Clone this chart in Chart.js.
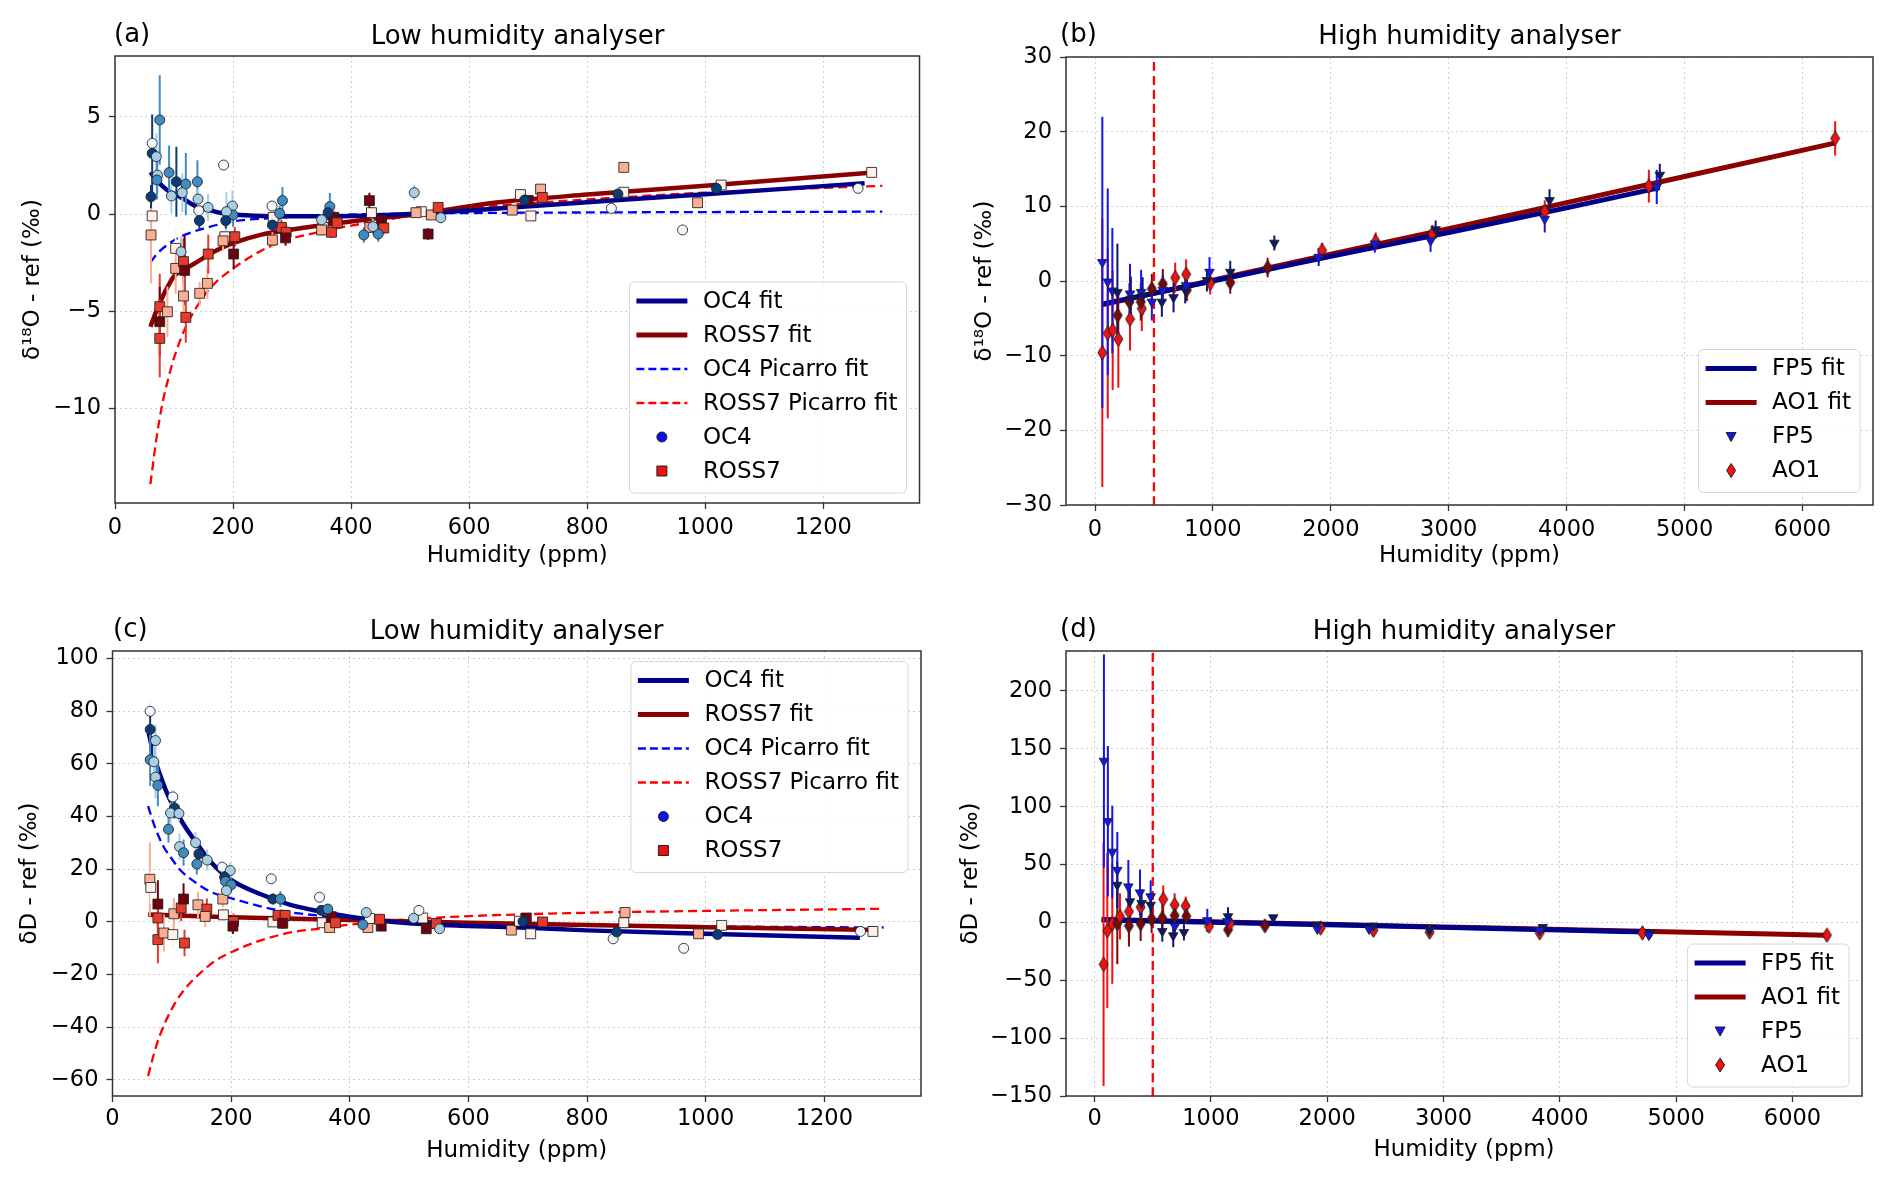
<!DOCTYPE html>
<html lang="en">
<head>
<meta charset="UTF-8">
<title>Humidity dependence of analysers</title>
<script src="https://cdn.jsdelivr.net/npm/chart.js"></script>
<style>
  body { margin: 0; background: #fff; font-family: "DejaVu Sans", sans-serif; }
  #wrap { position: relative; width: 1892px; height: 1181px; overflow: hidden; }
  canvas { position: absolute; }
  .lbl { position: absolute; font-size: 26px; line-height: 30px; white-space: nowrap; color: #000; }
  .ttl { text-align: center; }
</style>
</head>
<body>
<div id="wrap">
  <canvas id="pa" width="946" height="590" style="left:0;top:0"></canvas>
  <canvas id="pb" width="946" height="590" style="left:946px;top:0"></canvas>
  <canvas id="pc" width="946" height="590" style="left:0;top:590px"></canvas>
  <canvas id="pd" width="946" height="590" style="left:946px;top:590px"></canvas>
  <div class="lbl" style="left:114px;top:18px">(a)</div>
  <div class="lbl ttl" style="left:115px;width:805px;top:20px">Low humidity analyser</div>
  <div class="lbl" style="left:1060px;top:18px">(b)</div>
  <div class="lbl ttl" style="left:1066px;width:807px;top:20px">High humidity analyser</div>
  <div class="lbl" style="left:113px;top:613px">(c)</div>
  <div class="lbl ttl" style="left:112px;width:809px;top:615px">Low humidity analyser</div>
  <div class="lbl" style="left:1060px;top:613px">(d)</div>
  <div class="lbl ttl" style="left:1066px;width:796px;top:615px">High humidity analyser</div>
</div>
<script>
// ---------- panel (a): delta18O, low humidity analyser ----------
const aOc4X   = [63, 63, 70, 61, 72, 71, 75.8, 91.6, 104, 120, 114, 95.5, 139.6, 140.7, 157.7, 142, 143, 112, 184, 199, 200, 188.7, 187.6, 266, 283.7, 279, 266.7, 364, 361, 350, 421.5, 446, 437, 507, 552, 694, 841, 852, 961.6, 1019, 1259];
const aOc4Y   = [3.64, 3.12, 2.95, 0.89, 2.0, 1.75, 4.84, 2.13, 1.66, 1.54, 1.1, 0.93, 1.66, 0.77, 0.34, 0.17, -0.34, -1.94, 2.52, 0.41, -0.05, 0.12, -0.34, 0.41, 0.69, 0.03, -0.57, 0.38, 0.07, -0.3, -1.08, -1.03, -0.65, 1.1, -0.19, 0.72, 0.29, 1.03, -0.82, 1.32, 1.32];
const aOc4Err = [1.5, 2.0, 1.2, 0.6, 1.0, 1.0, 2.3, 1.4, 1.8, 1.6, 1.0, 0.9, 1.1, 0.5, 0.7, 0.4, 0.5, 0.8, 0.3, 0.8, 0.6, 1.0, 0.4, 0.2, 0.7, 0.4, 0.3, 0.7, 0.4, 0.3, 0.4, 0.4, 0.4, 0.4, 0.3, 0.3, 0.1, 0.1, 0.1, 0.1, 0.1];
const aOc4Run = [0, 3, 1, 3, 1, 2, 2, 2, 3, 2, 1, 1, 2, 1, 1, 0, 3, 1, 0, 1, 2, 1, 3, 0, 2, 2, 3, 2, 3, 1, 2, 2, 1, 1, 1, 3, 0, 3, 0, 3, 0];

const aRossX   = [63, 61, 75.8, 75.8, 75.8, 88.8, 102.8, 102.8, 116, 118, 116, 120, 143.5, 156.5, 158, 186, 183, 203, 201, 268, 266.7, 282, 290, 289, 352.5, 350, 366.8, 370.7, 376.5, 431, 434.5, 431.7, 451.4, 455.4, 530.5, 519, 510, 536, 547.5, 687, 673, 700, 704.6, 721, 724, 862, 862, 987, 1027, 1282];
const aRossY   = [-0.1, -1.08, -4.77, -5.54, -6.4, -5.03, -1.77, -2.8, -2.45, -2.9, -4.22, -5.32, -4.08, -3.57, -2.06, -1.17, -1.38, -1.17, -2.06, -0.17, -1.34, -0.69, -0.94, -1.23, -0.69, -0.82, -0.94, -0.17, -0.45, 0.69, 0.07, -0.69, -0.34, -0.72, -1.03, 0.12, 0.07, -0.05, 0.34, 1.0, 0.2, 0.7, -0.1, 1.28, 0.85, 2.4, 1.12, 0.58, 1.49, 2.14];
const aRossErr = [0.8, 2.5, 1.7, 1.8, 2.0, 1.3, 1.0, 1.3, 1.2, 1.8, 1.0, 1.3, 0.6, 0.8, 1.0, 0.4, 0.5, 0.5, 0.8, 0.3, 0.4, 0.4, 0.4, 0.4, 0.3, 0.3, 0.3, 0.3, 0.3, 0.4, 0.3, 0.3, 0.3, 0.3, 0.3, 0.2, 0.2, 0.2, 0.2, 0.2, 0.2, 0.2, 0.2, 0.2, 0.2, 0.1, 0.1, 0.1, 0.1, 0.1];
const aRossRun = [0, 1, 2, 3, 2, 1, 0, 1, 2, 3, 1, 2, 1, 1, 2, 0, 1, 2, 3, 0, 1, 2, 2, 3, 0, 1, 2, 3, 2, 3, 0, 1, 3, 2, 3, 0, 1, 1, 2, 0, 1, 3, 0, 1, 2, 1, 0, 1, 0, 0];

const aOc4FitX = [60, 70, 80, 90, 100, 120, 140, 160, 180, 200, 250, 300, 400, 500, 600, 800, 1000, 1270];
const aOc4FitY = [2.15, 1.75, 1.45, 1.2, 1.05, 0.7, 0.35, 0.2, 0.05, -0.02, -0.1, -0.12, -0.1, 0.0, 0.18, 0.6, 1.02, 1.58];
const aRossFitX = [60, 70, 80, 90, 100, 120, 140, 170, 200, 250, 300, 350, 430, 500, 650, 800, 1000, 1290];
const aRossFitY = [-5.8, -5.0, -4.3, -3.7, -3.2, -2.8, -2.45, -1.9, -1.5, -1.05, -0.8, -0.58, -0.27, -0.05, 0.6, 1.0, 1.45, 2.15];
const aOc4PicX = [60, 70, 80, 100, 120, 150, 200, 270, 350, 450, 600, 800, 1000, 1300];
const aOc4PicY = [-2.5, -2.1, -1.8, -1.35, -1.05, -0.75, -0.38, -0.2, -0.08, 0.0, 0.05, 0.08, 0.1, 0.12];
const aRossPicX = [60, 70, 80, 90, 100, 120, 140, 160, 200, 275, 350, 400, 500, 600, 800, 1000, 1300];
const aRossPicY = [-13.9, -11.6, -9.8, -8.5, -7.4, -5.8, -4.7, -3.85, -2.8, -1.5, -0.9, -0.6, -0.1, 0.3, 0.75, 1.1, 1.45];

// ---------- panel (b): delta18O, high humidity analyser ----------
const bFp5X   = [62, 108, 147, 190, 297, 304, 391, 404, 482, 567, 575, 666, 765, 773, 971, 949, 1147, 1521, 1897, 2373, 2846, 2889, 3814, 3855, 4764, 4790];
const bFp5Y   = [2.5, -0.1, -1.3, -1.5, -1.7, -2.4, -1.5, -2.0, -2.8, -2.8, -1.2, -2.2, -1.2, -0.6, 1.2, 0.1, 1.2, 5.1, 3.2, 5.0, 5.4, 6.9, 8.3, 10.8, 12.6, 14.2];
const bFp5Err = [19.5, 12.5, 8.4, 6.5, 4, 3, 3, 2.5, 2.5, 2, 2, 2, 1.8, 1.5, 2, 1.5, 1.5, 1, 1.2, 1.2, 1.5, 1.2, 1.8, 1.5, 2.3, 1.5];
const bFp5Run = [0, 0, 0, 1, 0, 1, 0, 1, 0, 1, 0, 1, 1, 0, 0, 1, 1, 1, 0, 0, 0, 1, 0, 1, 0, 1];
const bAo1X   = [62, 108, 150, 198, 192, 297, 292, 397, 388, 482, 575, 680, 773, 779, 977, 1147, 1464, 1926, 2380, 2860, 3814, 4697, 6277];
const bAo1Y   = [-9.6, -7.0, -6.6, -7.8, -4.6, -5.1, -2.8, -3.7, -2.8, -1.05, -0.4, 0.45, 0.9, -1.2, -0.3, -0.2, 1.8, 4.1, 5.3, 6.3, 9.3, 12.7, 19.1];
const bAo1Err = [18, 11.4, 8, 6.5, 2.5, 4.2, 2.5, 3, 2.5, 2, 2, 2, 2, 1.5, 1.5, 1.5, 1.3, 1, 1.2, 1.2, 1.5, 2.2, 2.3];
const bAo1Run = [0, 0, 0, 0, 1, 0, 1, 0, 1, 1, 1, 0, 0, 1, 0, 1, 1, 0, 0, 0, 0, 0, 0];
const bFp5FitX = [60, 1000, 2000, 3000, 4000, 4790];
const bFp5FitY = [-3.1, 0.0, 3.3, 6.5, 9.8, 12.5];
const bAo1FitX = [60, 1000, 2000, 3000, 4000, 5000, 6280];
const bAo1FitY = [-3.2, 0.1, 3.6, 7.0, 10.5, 14.0, 18.5];

// ---------- panel (c): deltaD, low humidity analyser ----------
const cOc4X   = [63.5, 63.5, 72.5, 63.5, 69.7, 72.5, 76.5, 101.7, 104.5, 97.8, 112, 94.4, 113, 119.8, 140, 145.6, 142.2, 159.6, 185, 198.5, 189, 190.6, 200, 192, 267.6, 270.4, 283, 349, 352, 363, 427.8, 422, 516.6, 507.6, 551.4, 692, 844, 850, 963, 1020, 1261];
const cOc4Y   = [80, 73.1, 68.9, 61.6, 60.8, 55, 51.9, 47.5, 43.3, 41.4, 41.2, 35.2, 28.6, 26.3, 30.1, 25.8, 22, 23.5, 20.8, 19.5, 17, 15.4, 14.1, 11.9, 16.4, 8.7, 8.7, 9.4, 4.4, 4.9, 3.6, -1.0, 4.4, 1.4, -2.6, 0.2, -6.4, -3.8, -10, -4.8, -3.6];
const cOc4Err = [4, 8, 6, 10, 6, 8, 8, 3, 4, 4, 3, 5, 5, 5, 4, 4, 4, 4, 3, 3, 3, 3, 3, 3, 1, 2, 3, 1, 1.5, 1.5, 1, 1, 1, 1, 1, 0.5, 0.5, 0.5, 0.5, 0.5, 0.5];
const cOc4Run = [0, 3, 1, 2, 1, 1, 2, 0, 3, 1, 1, 2, 1, 2, 1, 3, 2, 1, 0, 1, 3, 2, 2, 1, 0, 3, 2, 0, 3, 2, 1, 2, 0, 1, 1, 3, 0, 3, 0, 3, 0];
const cRossX   = [63, 64.5, 76.5, 76.5, 76.5, 86.6, 101.7, 103.4, 115.8, 119.8, 121.4, 144, 159, 156.3, 186, 187, 204, 203, 270.4, 279, 291, 287, 353.5, 366, 368.7, 376, 430.6, 433.4, 453, 450.3, 523, 529, 546, 672.4, 686, 697.6, 705, 725, 864, 862, 988, 1027, 1282];
const cRossY   = [16.2, 13.1, 6.8, 1.5, -6.7, -4.2, -4.8, 3.1, 5.3, 8.7, -8, 6.5, 4.9, 2.1, 8.7, 2.7, 0.2, -1.6, 0, 2.5, 2.5, -0.5, -0.3, -2.1, 2, -0.3, -2.1, 1.3, -1.6, 1.0, 1.5, -2.6, -0.6, -3.1, 0.3, 1.5, -4.5, 0, 3.6, -0.3, -4.5, -1.3, -3.6];
const cRossErr = [14, 6, 9, 6, 9, 7, 5, 6, 5, 6, 5, 5, 4, 4, 4, 3, 3, 3, 2, 2, 2, 2, 1.5, 1.5, 1.5, 1.5, 1, 1, 1, 1, 1, 1, 1, 0.5, 0.5, 0.5, 0.5, 0.5, 0.5, 0.5, 0.5, 0.5, 0.5];
const cRossRun = [1, 0, 3, 2, 2, 1, 0, 1, 2, 3, 2, 1, 2, 1, 1, 0, 2, 3, 0, 2, 2, 3, 0, 1, 3, 2, 1, 0, 3, 2, 0, 3, 2, 1, 0, 3, 0, 2, 1, 0, 1, 0, 0];
const cOc4FitX = [60, 70, 80, 90, 100, 110, 120, 140, 165, 200, 250, 300, 350, 400, 450, 500, 600, 700, 800, 1000, 1260];
const cOc4FitY = [73, 63, 56, 50, 45, 41, 37, 30.5, 23, 16, 10.5, 6.5, 4, 2, 0.5, -0.5, -1.5, -2.2, -3.2, -4.5, -6];
const cRossFitX = [60, 200, 400, 600, 800, 1000, 1290];
const cRossFitY = [2.8, 1.8, 0.7, -0.3, -1.2, -2.0, -3.1];
const cOc4PicX = [60, 70, 85, 100, 113, 140, 165, 200, 276, 360, 450, 600, 800, 1000, 1300];
const cOc4PicY = [44, 37, 29, 24, 20, 15, 11.5, 9, 4.6, 2.1, 0.5, -0.6, -1.3, -1.7, -2.1];
const cRossPicX = [60, 70, 80, 100, 120, 150, 175, 200, 250, 300, 350, 400, 500, 600, 800, 1000, 1300];
const cRossPicY = [-58.5, -50, -43, -33, -26, -19, -14.5, -11.5, -7, -4, -2.5, -1, 1, 2.2, 3.5, 4.2, 5];

// ---------- panel (d): deltaD, high humidity analyser ----------
const dFp5X   = [80, 114, 152, 195, 195, 290, 304, 390, 404, 482, 482, 582, 676, 768, 690, 969, 1147, 1141, 1536, 1909, 1915, 2359, 2397, 2880, 3853, 3827, 4778, 4765];
const dFp5Y   = [139.5, 87.4, 60.9, 45.2, 32.3, 30.9, 18, 25.7, 16.6, 22.3, 15.1, -7.7, -11.4, -8.6, -3.3, 1.7, 5.1, 0.9, 4.2, -2.0, -5.7, -5.7, -3, -6.8, -4.3, -6.8, -9.1, -11];
const dFp5Err = [92, 65, 40, 33, 20, 23, 15, 20, 12, 14, 10, 9, 10, 7, 6, 10, 8, 6, 2, 2, 2, 2, 2, 2, 2, 2, 2, 2];
const dFp5Run = [0, 0, 0, 0, 1, 0, 1, 0, 1, 0, 1, 1, 1, 1, 0, 0, 1, 0, 1, 1, 0, 0, 1, 1, 1, 0, 1, 0];
const dAo1X   = [77, 109, 152, 195, 218, 295, 295, 396, 396, 490, 590, 582, 688, 688, 783, 788, 983, 1147, 1164, 1464, 1943, 2397, 2880, 3827, 4710, 6296];
const dAo1Y   = [-36.3, -7.1, -1.1, -1.1, 5.2, 9.4, -2.9, 13.2, -1.1, 2.9, 20, 3.7, 15.2, 6, 14.3, 5.4, -3.4, -6.3, -1.1, -2.9, -4.9, -6.8, -8.5, -9.1, -9.1, -11];
const dAo1Err = [105, 67, 52, 35, 20, 25, 18, 15, 15, 12, 12, 12, 10, 8, 8, 6, 5, 6, 4, 3, 2, 2, 2, 2, 2, 2];
const dAo1Run = [0, 0, 0, 1, 0, 0, 1, 0, 1, 1, 0, 1, 0, 1, 0, 1, 0, 1, 0, 1, 0, 0, 0, 0, 0, 0];
const dFp5FitX = [60, 1000, 2000, 3000, 4000, 4790];
const dFp5FitY = [2.2, 0.1, -2.1, -4.3, -6.5, -8.4];
const dAo1FitX = [60, 1000, 2000, 3000, 4000, 5000, 6280];
const dAo1FitY = [2.5, 0.5, -1.7, -3.9, -6.1, -8.2, -11];

// axis limits and ticks
const lowXRange = [0, 1363];
const highXRange = [-246, 6598];
const lowXTicks = [0, 200, 400, 600, 800, 1000, 1200];
const highXTicks = [0, 1000, 2000, 3000, 4000, 5000, 6000];
const aYRange = [-14.87, 8.13];
const aYTicks = [-10, -5, 0, 5];
const bYRange = [-30, 30];
const bYTicks = [-30, -20, -10, 0, 10, 20, 30];
const cYRange = [-66.1, 102.9];
const cYTicks = [-60, -40, -20, 0, 20, 40, 60, 80, 100];
const dYRange = [-150, 234.5];
const dYTicks = [-150, -100, -50, 0, 50, 100, 150, 200];
const markerLine = [500, 500];

// colours
const BLUES = ['#f2f7fd', '#a8cee4', '#3f8cc2', '#0a3d78'];
const REDS = ['#fff0e8', '#fcae92', '#e8392b', '#6f0210'];
const FP5C = ['#1414f0', '#0c1870'];
const AO1C = ['#f21010', '#7a0808'];
const NAVY = '#00008b';
const DARKRED = '#8b0000';
const FONT = 'DejaVu Sans';

function pts(xs, ys) { return xs.map((x, i) => ({ x: x, y: ys[i] })); }

function bars(xs, ys, es) {
  const out = [];
  xs.forEach((x, i) => {
    out.push({ x: x, y: ys[i] - es[i] }, { x: x, y: ys[i] + es[i] }, { x: x, y: null });
  });
  return out;
}

function thinDiamond(color) {
  const c = document.createElement('canvas');
  c.width = 11; c.height = 16;
  const g = c.getContext('2d');
  g.beginPath();
  g.moveTo(5.5, 0.8); g.lineTo(10, 8); g.lineTo(5.5, 15.2); g.lineTo(1, 8); g.closePath();
  g.fillStyle = color; g.fill();
  g.strokeStyle = '#222'; g.lineWidth = 1; g.stroke();
  return c;
}
const AO1D = AO1C.map(thinDiamond);

function scatterSet(xs, ys, runs, colors, style, radius) {
  return {
    type: 'scatter', data: pts(xs, ys), order: 0,
    pointStyle: Array.isArray(style) ? runs.map(r => style[r]) : style,
    pointRotation: style === 'triangle' ? 180 : 0,
    pointRadius: radius,
    pointBackgroundColor: runs.map(r => colors[r]),
    pointBorderColor: 'rgba(30,30,30,0.85)',
    pointBorderWidth: 1
  };
}

function errSet(xs, ys, es, runs, colors) {
  return {
    type: 'line', data: bars(xs, ys, es), order: 1, showLine: true, spanGaps: false,
    pointRadius: 0, borderWidth: 2, borderColor: colors[runs[0]],
    segment: { borderColor: ctx => colors[runs[Math.floor(ctx.p0DataIndex / 3)]] }
  };
}

function lineSet(xs, ys, color, width, dash) {
  return {
    type: 'line', data: pts(xs, ys), order: 2, showLine: true, pointRadius: 0,
    borderColor: color, borderWidth: width, borderDash: dash || [],
    cubicInterpolationMode: 'monotone', fill: false
  };
}

function tickText(v) { return v < 0 ? '\u2212' + Math.abs(v) : String(v); }

// matplotlib-like frame round the axes
const frame = {
  id: 'frame',
  afterDatasetsDraw(chart) {
    const { ctx, chartArea: a } = chart;
    ctx.save();
    ctx.strokeStyle = '#333';
    ctx.lineWidth = 1.5;
    ctx.strokeRect(a.left, a.top, a.right - a.left, a.bottom - a.top);
    ctx.restore();
  }
};

function drawMarker(ctx, kind, x, y, fill) {
  ctx.save();
  ctx.setLineDash([]);
  ctx.fillStyle = fill;
  ctx.strokeStyle = '#222';
  ctx.lineWidth = 1;
  ctx.beginPath();
  if (kind === 'circle') ctx.arc(x, y, 5, 0, Math.PI * 2);
  else if (kind === 'square') ctx.rect(x - 5, y - 5, 10, 10);
  else if (kind === 'tri') { ctx.moveTo(x - 5, y - 4); ctx.lineTo(x + 5, y - 4); ctx.lineTo(x, y + 5); ctx.closePath(); }
  else { ctx.moveTo(x, y - 7); ctx.lineTo(x + 4.5, y); ctx.lineTo(x, y + 7); ctx.lineTo(x - 4.5, y); ctx.closePath(); }
  ctx.fill();
  ctx.stroke();
  ctx.restore();
}

// legend box drawn inside the axes, like matplotlib's
const mplLegend = {
  id: 'mplLegend',
  afterDraw(chart, args, o) {
    const { ctx, chartArea: a } = chart;
    const items = o.items;
    ctx.save();
    ctx.font = '23px "' + FONT + '"';
    const tw = Math.max(...items.map(it => ctx.measureText(it.text).width));
    const w = 73.5 + tw + 9, h = items.length * 34 + 7;
    const x0 = a.right - 13 - w;
    const y0 = o.corner === 'top' ? a.top + o.gap : a.bottom - o.gap - h;
    ctx.beginPath();
    ctx.roundRect(x0, y0, w, h, 5);
    ctx.fillStyle = 'rgba(255,255,255,0.85)';
    ctx.fill();
    ctx.strokeStyle = '#d6d6d6';
    ctx.lineWidth = 1;
    ctx.stroke();
    items.forEach((it, i) => {
      const cy = y0 + 19 + i * 34;
      if (it.kind === 'line') {
        ctx.save();
        ctx.beginPath();
        ctx.setLineDash(it.dash || []);
        ctx.strokeStyle = it.color;
        ctx.lineWidth = it.width;
        ctx.moveTo(x0 + 7, cy);
        ctx.lineTo(x0 + 58, cy);
        ctx.stroke();
        ctx.restore();
      } else {
        drawMarker(ctx, it.kind, x0 + 32.5, cy, it.color);
      }
      ctx.fillStyle = '#000';
      ctx.textBaseline = 'middle';
      ctx.fillText(it.text, x0 + 73.5, cy + 1);
    });
    ctx.restore();
  }
};

function makeChart(id, datasets, lay, legendItems) {
  const tickFont = { family: FONT, size: 22.5 };
  const labFont = { family: FONT, size: 23 };
  const grid = { color: '#cfcfcf', lineWidth: 1, drawTicks: true, tickLength: 6, tickColor: '#333', tickWidth: 1.3, tickBorderDash: [] };
  const border = { display: false, dash: [2, 3] };
  return new Chart(document.getElementById(id), {
    type: 'scatter',
    data: { datasets: datasets },
    options: {
      responsive: false, animation: false, events: [],
      layout: { padding: { top: lay.top, right: lay.right, left: 0, bottom: 0 } },
      plugins: { legend: { display: false }, tooltip: { enabled: false },
                 mplLegend: { items: legendItems, corner: lay.corner, gap: lay.gap } },
      scales: {
        x: {
          type: 'linear', min: lay.xr[0], max: lay.xr[1],
          afterBuildTicks: s => { s.ticks = lay.xt.map(v => ({ value: v })); },
          afterFit: s => { s.height = lay.xh; },
          grid: grid, border: border,
          ticks: { font: tickFont, color: '#000', padding: lay.xtp, maxRotation: 0, callback: tickText },
          title: { display: true, text: 'Humidity (ppm)', font: labFont, color: '#000', padding: { top: 0, bottom: lay.xpad } }
        },
        y: {
          type: 'linear', min: lay.yr[0], max: lay.yr[1],
          afterBuildTicks: s => { s.ticks = lay.yt.map(v => ({ value: v })); },
          afterFit: s => { s.width = lay.yw; },
          grid: grid, border: border,
          ticks: { font: tickFont, color: '#000', padding: 8, callback: tickText },
          title: { display: true, text: lay.ytitle, font: labFont, color: '#000', padding: { top: lay.ypad, bottom: 0 } }
        }
      }
    },
    plugins: [frame, mplLegend]
  });
}

const lowLegend = [
  { kind: 'line', text: 'OC4 fit', color: NAVY, width: 5 },
  { kind: 'line', text: 'ROSS7 fit', color: DARKRED, width: 5 },
  { kind: 'line', text: 'OC4 Picarro fit', color: '#0000ff', width: 2.5, dash: [8, 4] },
  { kind: 'line', text: 'ROSS7 Picarro fit', color: '#ff0000', width: 2.5, dash: [8, 4] },
  { kind: 'circle', text: 'OC4', color: '#1010e8' },
  { kind: 'square', text: 'ROSS7', color: '#ee1010' }
];
const highLegend = [
  { kind: 'line', text: 'FP5 fit', color: NAVY, width: 5 },
  { kind: 'line', text: 'AO1 fit', color: DARKRED, width: 5 },
  { kind: 'tri', text: 'FP5', color: '#1414f0' },
  { kind: 'diamond', text: 'AO1', color: '#f21010' }
];

makeChart('pa', [
  scatterSet(aOc4X, aOc4Y, aOc4Run, BLUES, 'circle', 5),
  scatterSet(aRossX, aRossY, aRossRun, REDS, 'rect', 7),
  errSet(aOc4X, aOc4Y, aOc4Err, aOc4Run, BLUES),
  errSet(aRossX, aRossY, aRossErr, aRossRun, REDS),
  lineSet(aOc4FitX, aOc4FitY, NAVY, 4.5),
  lineSet(aRossFitX, aRossFitY, DARKRED, 4.5),
  lineSet(aOc4PicX, aOc4PicY, '#0000ff', 2.3, [9, 5]),
  lineSet(aRossPicX, aRossPicY, '#ff0000', 2.3, [9, 5])
], { top: 56, right: 26.5, yw: 115, xh: 87, xtp: 6, xr: lowXRange, yr: aYRange, xt: lowXTicks, yt: aYTicks,
     ytitle: 'δ¹⁸O - ref (‰)', ypad: 19, xpad: 20, corner: 'bottom', gap: 10 }, lowLegend);

makeChart('pb', [
  scatterSet(bFp5X, bFp5Y, bFp5Run, FP5C, 'triangle', 5.5),
  scatterSet(bAo1X, bAo1Y, bAo1Run, AO1C, AO1D, 6),
  errSet(bFp5X, bFp5Y, bFp5Err, bFp5Run, FP5C),
  errSet(bAo1X, bAo1Y, bAo1Err, bAo1Run, AO1C),
  lineSet(bFp5FitX, bFp5FitY, NAVY, 5),
  lineSet(bAo1FitX, bAo1FitY, DARKRED, 5),
  lineSet(markerLine, bYRange, '#ff0000', 2.3, [9, 5])
], { top: 57, right: 19, yw: 120, xh: 85, xtp: 6, xr: highXRange, yr: bYRange, xt: highXTicks, yt: bYTicks,
     ytitle: 'δ¹⁸O - ref (‰)', ypad: 25, xpad: 20, corner: 'bottom', gap: 12.5 }, highLegend);

makeChart('pc', [
  scatterSet(cOc4X, cOc4Y, cOc4Run, BLUES, 'circle', 5),
  scatterSet(cRossX, cRossY, cRossRun, REDS, 'rect', 7),
  errSet(cOc4X, cOc4Y, cOc4Err, cOc4Run, BLUES),
  errSet(cRossX, cRossY, cRossErr, cRossRun, REDS),
  lineSet(cOc4FitX, cOc4FitY, NAVY, 4.5),
  lineSet(cRossFitX, cRossFitY, DARKRED, 4.5),
  lineSet(cOc4PicX, cOc4PicY, '#0000ff', 2.3, [9, 5]),
  lineSet(cRossPicX, cRossPicY, '#ff0000', 2.3, [9, 5])
], { top: 61, right: 25, yw: 112.5, xh: 84, xtp: 4, xr: lowXRange, yr: cYRange, xt: lowXTicks, yt: cYTicks,
     ytitle: 'δD - ref (‰)', ypad: 16, xpad: 15, corner: 'top', gap: 10.5 }, lowLegend);

makeChart('pd', [
  scatterSet(dFp5X, dFp5Y, dFp5Run, FP5C, 'triangle', 5.5),
  scatterSet(dAo1X, dAo1Y, dAo1Run, AO1C, AO1D, 6),
  errSet(dFp5X, dFp5Y, dFp5Err, dFp5Run, FP5C),
  errSet(dAo1X, dAo1Y, dAo1Err, dAo1Run, AO1C),
  lineSet(dFp5FitX, dFp5FitY, NAVY, 5),
  lineSet(dAo1FitX, dAo1FitY, DARKRED, 5),
  lineSet(markerLine, dYRange, '#ff0000', 2.3, [9, 5])
], { top: 61, right: 30, yw: 120, xh: 84, xtp: 4, xr: highXRange, yr: dYRange, xt: highXTicks, yt: dYTicks,
     ytitle: 'δD - ref (‰)', ypad: 11, xpad: 16, corner: 'bottom', gap: 9 }, highLegend);
</script>
</body>
</html>
